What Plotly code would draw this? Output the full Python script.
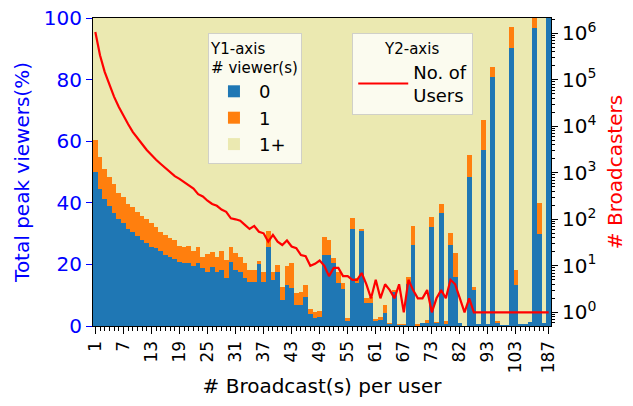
import plotly.graph_objects as go

# ---------------- data ----------------
categories = [str(v) for v in range(1, 74)] + [
    "74", "75", "76", "77", "79", "82", "83", "85", "87", "89", "91", "93",
    "94", "96", "98", "100", "101", "103", "106", "110", "116", "124", "135",
    "152", "187"]

tick_labels = ["1", "7", "13", "19", "25", "31", "37", "43", "49", "55", "61",
               "67", "73", "82", "93", "103", "187"]

# % of total peak viewers: 0 viewers
zero_viewers = [
    50.1, 44.5, 41.2, 39.0, 36.8, 34.8, 33.5, 31.5, 30.4, 29.3,
    27.9, 27.0, 25.7, 25.4, 24.4, 22.9, 22.3, 21.9, 20.8, 20.3,
    20.3, 19.5, 20.3, 18.7, 17.6, 19.3, 17.4, 18.2, 15.7, 20.9,
    18.2, 17.6, 15.7, 14.3, 14.3, 20.0, 14.3, 25.7, 14.9, 17.6,
    8.4, 13.3, 12.2, 6.8, 6.8, 9.5, 4.0, 2.5, 3.0, 23.0,
    23.0, 20.5, 14.0, 12.0, 1.5, 31.5, 13.9, 31.0, 7.4, 7.4,
    1.9, 2.1, 4.1, 0.9, 11.1, 0.5, 0.5, 13.6, 26.3, 0.3,
    1.0, 1.2, 32.2, 1.0, 36.6, 0.5, 26.3, 16.0, 1.0, 0.0,
    48.5, 11.7, 0.5, 57.1, 0.8, 80.9, 1.0, 0.3, 0.3, 90.2,
    13.3, 0.8, 0.8, 1.2, 96.6, 30.0, 1.0, 100.0]

# % of total peak viewers: 1 viewer
one_viewer = [
    10.3, 10.3, 9.8, 9.5, 9.2, 8.5, 8.5, 8.1, 8.1, 7.7,
    7.8, 7.8, 7.6, 6.8, 6.2, 6.5, 6.2, 6.0, 5.2, 5.2,
    5.7, 4.9, 5.5, 3.8, 5.8, 4.7, 5.1, 6.0, 5.7, 4.6,
    5.4, 4.9, 4.6, 3.9, 3.9, 1.0, 3.3, 5.1, 2.7, 2.2,
    4.4, 6.3, 8.1, 3.8, 4.3, 3.8, 1.5, 2.1, 2.0, 6.0,
    5.0, 1.5, 3.5, 2.0, 1.0, 3.5, 1.6, 0.5, 1.6, 2.1,
    0.3, 0.8, 2.7, 0.1, 0.6, 0.1, 0.3, 2.2, 6.2, 0.2,
    0.0, 0.6, 3.3, 0.2, 3.0, 1.0, 3.8, 7.6, 0.0, 0.0,
    7.0, 1.1, 0.0, 9.8, 0.0, 3.3, 0.5, 0.0, 0.0, 6.8,
    4.9, 0.0, 0.0, 0.0, 3.4, 9.8, 0.0, 0.0]

# % of total peak viewers: more than 1 viewer
more_viewers = [
    39.6, 45.2, 49.0, 51.5, 54.0, 56.7, 58.0, 60.4, 61.5, 63.0,
    64.3, 65.2, 66.7, 67.8, 69.4, 70.6, 71.5, 72.1, 74.0, 74.5,
    74.0, 75.6, 74.2, 77.5, 76.6, 76.0, 77.5, 75.8, 78.6, 74.5,
    76.4, 77.5, 79.7, 81.8, 81.8, 79.0, 82.4, 69.2, 82.4, 80.2,
    87.2, 80.4, 79.7, 89.4, 88.9, 86.7, 94.5, 95.4, 95.0, 71.0,
    72.0, 78.0, 82.5, 86.0, 97.5, 65.0, 84.5, 68.5, 91.0, 90.5,
    97.8, 97.1, 93.2, 99.0, 88.3, 99.4, 99.2, 84.2, 67.5, 99.5,
    99.0, 98.2, 64.5, 98.8, 60.4, 98.5, 69.9, 76.4, 99.0, 100.0,
    44.5, 87.2, 99.5, 33.1, 99.2, 15.8, 98.5, 99.7, 99.7, 3.0,
    81.8, 99.2, 99.2, 98.8, 0.0, 60.2, 99.0, 0.0]

# number of users (broadcasters) per category
users = [
    1070000, 339000, 148000, 77600, 43600, 26300, 16600, 11200, 7590, 5500,
    4170, 3090, 2400, 1905, 1550, 1260, 1050, 851, 741, 631,
    525, 457, 347, 309, 251, 214, 195, 162, 145, 105,
    100, 93, 76, 62, 72, 54, 50, 33, 46, 33,
    28, 35, 26, 24, 17, 16, 10, 11, 13, 10,
    6, 9, 9, 6, 6, 5, 5, 7, 4, 2,
    5, 2, 4, 3, 2, 4, 1, 5, 3, 2,
    2, 3, 1, 2, 3, 2, 5, 4, 2, 1,
    2, 1, 1, 1, 1, 1, 1, 1, 1, 1,
    1, 1, 1, 1, 1, 1, 1, 1]

# ---------------- figure ----------------
BLUE = "#1f77b4"
ORANGE = "#ff7f0e"
KHAKI = "#ebe9b1"

xpos = list(range(len(categories)))
tickvals = [categories.index(t) for t in tick_labels]

fig = go.Figure()
for name, vals, col in [("0", zero_viewers, BLUE), ("1", one_viewer, ORANGE),
                        ("1+", more_viewers, KHAKI)]:
    fig.add_trace(go.Bar(x=xpos, y=vals, name=name, marker_color=col,
                         marker_line_width=0, legend="legend", yaxis="y"))

fig.add_trace(go.Scatter(x=xpos, y=users, mode="lines", name="No. of<br>Users",
                         line=dict(color="red", width=2.2), yaxis="y2",
                         legend="legend2"))

exp_vals = [10 ** k for k in range(0, 7)]
exp_text = ["10<sup>%d</sup>" % k for k in range(0, 7)]
minor_vals = [m * 10 ** k for k in range(-1, 7) for m in range(2, 10)]

FONT = "DejaVu Sans"
# the page body adds an 8px margin, so the figure is 8px smaller each way
fig.update_layout(
    width=625, height=398,
    margin=dict(l=85, r=82, t=10, b=80, autoexpand=False),
    barmode="stack", bargap=0,
    plot_bgcolor=KHAKI, paper_bgcolor="white",
    font=dict(family=FONT, size=18, color="black"),
    xaxis=dict(
        automargin=False,
        range=[-0.5, len(categories) - 0.5],
        tickmode="array", tickvals=tickvals, ticktext=tick_labels,
        tickangle=-90, tickfont=dict(size=17, color="black"),
        ticklabeloverflow="allow",
        ticks="outside", ticklen=7, tickwidth=1, tickcolor="black",
        minor=dict(tickmode="linear", tick0=0, dtick=1, ticks="outside",
                   ticklen=4, tickcolor="black", showgrid=False),
        showline=True, linecolor="black", linewidth=1.2, mirror=True,
        showgrid=False, zeroline=False,
        title=dict(text="# Broadcast(s) per user", font=dict(size=20), standoff=6),
    ),
    yaxis=dict(
        automargin=False,
        range=[0, 100], dtick=20, tick0=0,
        tickfont=dict(size=20, color="blue"),
        ticklabeloverflow="allow",
        ticks="outside", ticklen=6, tickcolor="blue", tickwidth=1,
        showline=True, linecolor="black", linewidth=1.2, mirror=True,
        showgrid=False, zeroline=False,
        title=dict(text="Total peak viewers(%)", font=dict(size=20, color="blue"),
                   standoff=8),
    ),
    yaxis2=dict(
        automargin=False,
        type="log", range=[-0.295, 6.33], overlaying="y", side="right",
        tickmode="array", tickvals=exp_vals, ticktext=exp_text,
        tickfont=dict(size=20, color="black"),
        ticklabeloverflow="allow",
        ticks="outside", ticklen=6, tickcolor="black", tickwidth=1,
        minor=dict(tickmode="array", tickvals=minor_vals, ticks="outside",
                   ticklen=3, tickcolor="black", showgrid=False),
        showline=True, linecolor="black", linewidth=1.2,
        showgrid=False, zeroline=False,
        title=dict(text="# Broadcasters", font=dict(size=20, color="red"),
                   standoff=12),
    ),
    legend=dict(
        x=0.251, y=0.951, xanchor="left", yanchor="top",
        bgcolor="rgba(255,255,255,0.8)", bordercolor="#d0d0c8", borderwidth=1,
        font=dict(size=18), traceorder="normal",
        title=dict(text="Y1-axis<br># viewer(s)", font=dict(size=15),
                   side="top center"),
        itemwidth=40,
    ),
    legend2=dict(
        x=0.566, y=0.951, xanchor="left", yanchor="top",
        bgcolor="rgba(255,255,255,0.8)", bordercolor="#d0d0c8", borderwidth=1,
        font=dict(size=18),
        title=dict(text="Y2-axis", font=dict(size=15), side="top center"),
        itemwidth=50,
    ),
)

fig.write_html("out.html")
